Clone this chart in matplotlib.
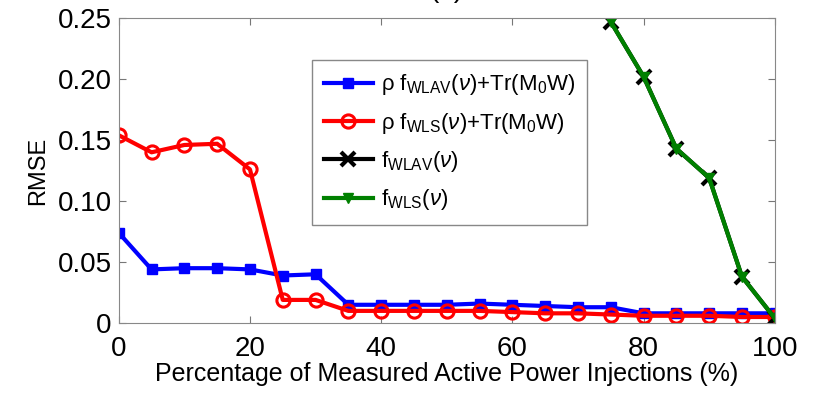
import numpy as np
import matplotlib.pyplot as plt

plt.rcParams['font.family'] = ['Liberation Sans', 'DejaVu Sans']
plt.rcParams['mathtext.fontset'] = 'custom'
plt.rcParams['mathtext.rm'] = 'Liberation Sans'
plt.rcParams['mathtext.it'] = 'Liberation Sans:italic'
plt.rcParams['mathtext.bf'] = 'Liberation Sans:bold'

# Percentage of measured active power injections
pct = [0, 5, 10, 15, 20, 25, 30, 35, 40, 45, 50, 55, 60, 65, 70, 75, 80, 85, 90, 95, 100]
pct_direct = [75, 80, 85, 90, 95, 100]

# RMSE values
rmse_wlav_reg = [0.074, 0.044, 0.045, 0.045, 0.044, 0.039, 0.040, 0.015, 0.015, 0.015, 0.015,
                 0.016, 0.015, 0.014, 0.013, 0.013, 0.008, 0.008, 0.008, 0.008, 0.008]
rmse_wls_reg = [0.154, 0.140, 0.146, 0.147, 0.126, 0.019, 0.019, 0.010, 0.010, 0.010, 0.010,
                0.010, 0.009, 0.008, 0.008, 0.007, 0.006, 0.006, 0.006, 0.005, 0.005]
rmse_wlav = [0.247, 0.202, 0.143, 0.119, 0.038, 0.004]
rmse_wls = [0.247, 0.202, 0.143, 0.119, 0.038, 0.004]

labels = [r'ρ $\mathrm{f}_{\mathrm{WLAV}}(\nu)$+Tr(M$_0$W)',
          r'ρ $\mathrm{f}_{\mathrm{WLS}}(\nu)$+Tr(M$_0$W)',
          r'$\mathrm{f}_{\mathrm{WLAV}}(\nu)$',
          r'$\mathrm{f}_{\mathrm{WLS}}(\nu)$']

fig = plt.figure(figsize=(8.19, 3.94), dpi=100)
ax = fig.add_axes([0.145, 0.180, 0.801, 0.774])

ax.plot(pct, rmse_wlav_reg, color='blue', lw=3, marker='s', ms=7.5, label=labels[0])
ax.plot(pct, rmse_wls_reg, color='red', lw=3, marker='o', ms=9.5, mfc='none',
        mew=2.2, label=labels[1])
ax.plot(pct_direct, rmse_wlav, color='black', lw=3, marker='x', ms=10, mew=3, label=labels[2])
ax.plot(pct_direct, rmse_wls, color='green', lw=3, marker='v', ms=7, label=labels[3])

ax.set_xlim(0, 100)
ax.set_ylim(0, 0.25)
ax.set_xticks([0, 20, 40, 60, 80, 100])
ax.set_yticks([0, 0.05, 0.10, 0.15, 0.20, 0.25])
ax.set_yticklabels(['0', '0.05', '0.10', '0.15', '0.20', '0.25'])
ax.tick_params(direction='in', top=True, right=True, labelsize=20, color='#777777',
               length=5)
ax.tick_params(axis='x', pad=9)
ax.tick_params(axis='y', pad=5)
for s in ax.spines.values():
    s.set_color('#888888')

ax.set_xlabel('Percentage of Measured Active Power Injections (%)', fontsize=18, labelpad=0)
ax.set_ylabel('RMSE', fontsize=17, labelpad=6)
ax.set_title('(a)', fontsize=20, pad=15)

leg = ax.legend(loc='upper left', bbox_to_anchor=(0.294, 0.862), fontsize=16,
                fancybox=False, framealpha=1, edgecolor='#888888',
                handlelength=2.2, borderpad=0.55, labelspacing=0.6, handletextpad=0.35,
                borderaxespad=0)

plt.savefig('out.png', dpi=100)
